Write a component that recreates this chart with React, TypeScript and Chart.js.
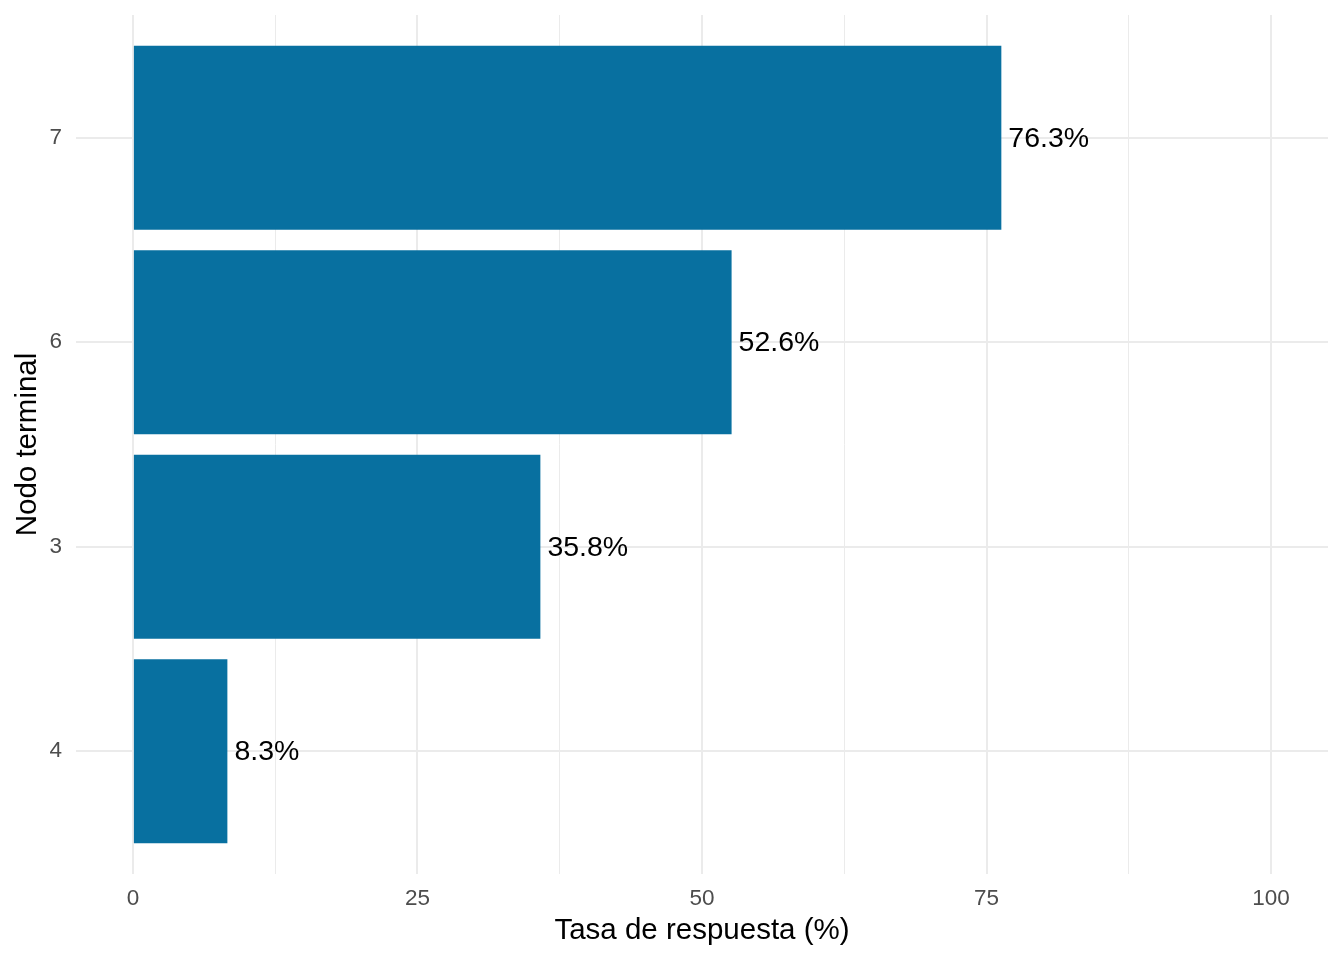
import { useEffect, useRef } from 'react';
import { Chart, registerables } from 'chart.js';

Chart.register(...registerables);

const nodos = ['7', '6', '3', '4'];
const tasas = [76.3, 52.6, 35.8, 8.3];
const xTicks = [0, 12.5, 25, 37.5, 50, 62.5, 75, 87.5, 100];

const barColor = '#0870a0';
const gridColor = '#ebebeb';
const fontFamily = '"Liberation Sans", Arial, sans-serif';

const barLabels = {
  id: 'barLabels',
  afterDatasetsDraw(chart: Chart) {
    const { ctx } = chart;
    const meta = chart.getDatasetMeta(0);
    ctx.save();
    ctx.font = `28.5px ${fontFamily}`;
    ctx.fillStyle = '#000000';
    ctx.textAlign = 'left';
    ctx.textBaseline = 'middle';
    meta.data.forEach((bar: any, i) => {
      ctx.fillText(`${tasas[i].toFixed(1)}%`, bar.x + 7, bar.y + 1);
    });
    ctx.restore();
  },
};

export default function App() {
  const ref = useRef<HTMLCanvasElement>(null);

  useEffect(() => {
    if (!ref.current) return;
    const chart = new Chart(ref.current, {
      type: 'bar',
      data: {
        datasets: [{
          data: tasas.map((v, i) => ({ x: v, y: i })),
          backgroundColor: barColor,
          borderWidth: 0,
          barPercentage: 0.9,
          categoryPercentage: 1,
        }],
      },
      options: {
        indexAxis: 'y',
        animation: false,
        responsive: true,
        maintainAspectRatio: false,
        layout: { padding: { top: 15, right: 16, left: 0, bottom: 0 } },
        plugins: {
          legend: { display: false },
          tooltip: { enabled: false },
        },
        scales: {
          x: {
            type: 'linear',
            min: -5,
            max: 105,
            afterBuildTicks: (scale: any) => { scale.ticks = xTicks.map(v => ({ value: v })); },
            afterFit: (scale: any) => {
              scale.height = 86;
              scale.paddingLeft = 0;
              scale.paddingRight = 0;
            },
            border: { display: false },
            grid: {
              color: gridColor,
              lineWidth: (c: any) => (c.tick.value % 25 === 0 ? 2 : 1),
              drawTicks: false,
            },
            ticks: {
              autoSkip: false,
              maxRotation: 0,
              padding: 11,
              color: '#4d4d4d',
              font: { family: fontFamily, size: 22.5 },
              callback: (v: any) => (v % 25 === 0 ? String(v) : ''),
            },
            title: {
              display: true,
              text: 'Tasa de respuesta (%)',
              color: '#000000',
              font: { family: fontFamily, size: 29.5, lineHeight: 1.2 },
              padding: { top: 0, bottom: 11 },
            },
          },
          y: {
            type: 'linear',
            reverse: true,
            offset: false,
            min: -0.6,
            max: 3.6,
            afterBuildTicks: (scale: any) => { scale.ticks = nodos.map((_, i) => ({ value: i })); },
            afterFit: (scale: any) => {
              scale.width = 76;
              scale.paddingTop = 0;
              scale.paddingBottom = 0;
            },
            border: { display: false },
            grid: { color: gridColor, lineWidth: 2, drawTicks: false, offset: false },
            ticks: {
              autoSkip: false,
              padding: 14,
              color: '#4d4d4d',
              font: { family: fontFamily, size: 22.5 },
              callback: (v: any) => nodos[v] ?? '',
            },
            title: {
              display: true,
              text: 'Nodo terminal',
              color: '#000000',
              font: { family: fontFamily, size: 29.5, lineHeight: 1.2 },
              padding: { top: 10, bottom: 0 },
            },
          },
        },
      },
      plugins: [barLabels],
    });
    return () => chart.destroy();
  }, []);

  return (
    <div style={{ position: 'absolute', left: 0, top: 0, width: 1344, height: 960, background: '#ffffff' }}>
      <canvas ref={ref} />
    </div>
  );
}
